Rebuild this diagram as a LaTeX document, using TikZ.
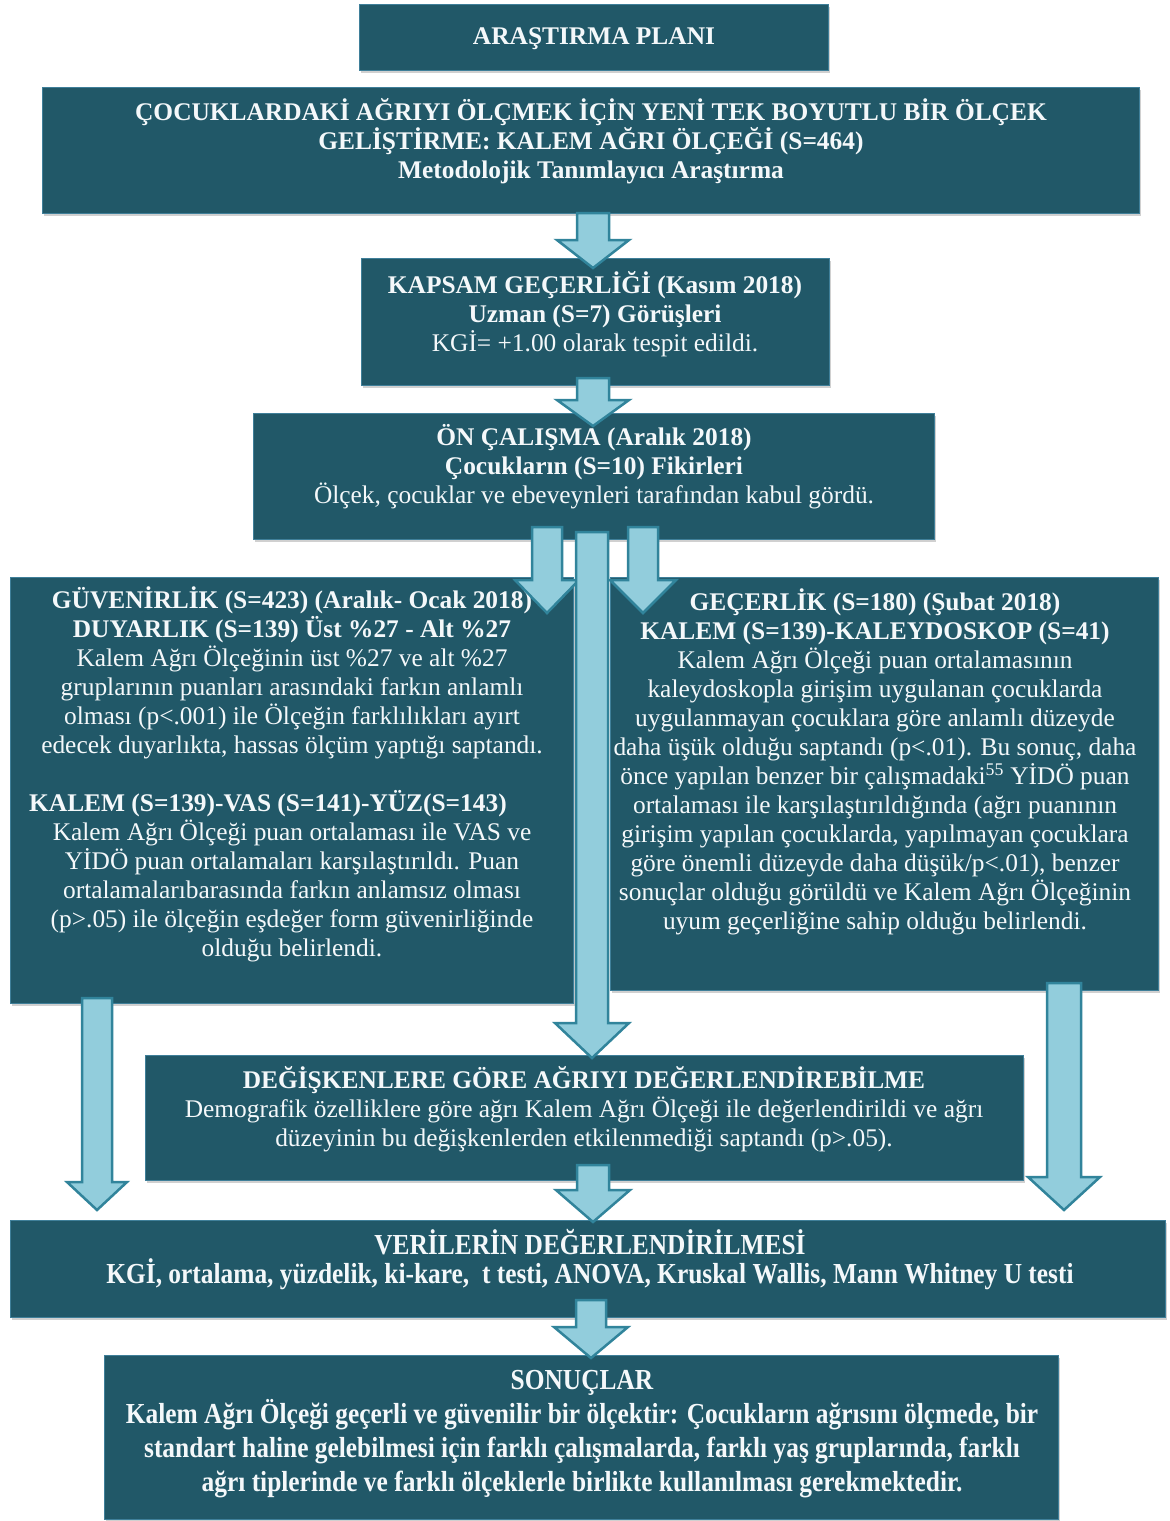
\documentclass[tikz,border=0pt]{standalone}
\usepackage{fontspec}
\setmainfont{Liberation Serif}
\newfontfamily\condfont[FakeStretch=0.876]{Liberation Serif}
\usetikzlibrary{shadows,fit}
\definecolor{boxfill}{HTML}{215868}
\definecolor{boxedge}{HTML}{3F7F99}
\definecolor{arrfill}{HTML}{92CDDC}
\definecolor{arredge}{HTML}{31849B}
\definecolor{txtcol}{HTML}{F4F8FA}
\tikzset{
  box/.style={rectangle, fill=boxfill, draw=boxedge, line width=0.6pt, inner sep=0pt,
    drop shadow={shadow xshift=2pt, shadow yshift=-3pt, opacity=0.3, fill=black!60}},
  txt/.style={text=txtcol, align=center, inner sep=0pt, font=\fontsize{25.4}{29}\selectfont},
  ctxt/.style={text=txtcol, align=center, inner sep=0pt, font=\condfont\bfseries\fontsize{29}{29}\selectfont},
  barrow/.style={fill=arrfill, draw=arredge, line width=2.5pt, line join=miter},
}
% cx, ytop, yhead, ytip, half shaft, half head
\newcommand\blockarr[6]{\draw[barrow] ({#1-#5},#2) -- ({#1+#5},#2) -- ({#1+#5},#3) -- ({#1+#6},#3) -- (#1,#4) -- ({#1-#6},#3) -- ({#1-#5},#3) -- cycle;}
\begin{document}
\begin{tikzpicture}[x=1pt,y=-1pt]
\useasboundingbox[fill=white] (0,0) rectangle (1170,1521);

% boxes
\node[box, fit={(359,4) (828,70)}] (b1) {};
\node[box, fit={(42,87) (1139,213)}] (b2) {};
\node[box, fit={(361,258) (829,385)}] (b3) {};
\node[box, fit={(253,413) (934,539)}] (b4) {};
\node[box, fit={(10,577) (573,1003)}] (bl) {};
\node[box, fit={(610,577) (1158,990)}] (br) {};
\node[box, fit={(145,1055) (1023,1180)}] (b5) {};
\node[box, fit={(10,1220) (1165,1317)}] (b6) {};
\node[box, fit={(104,1355) (1058,1519)}] (b7) {};

% texts
\node[txt] (t1) at (594,39) {\textbf{ARAŞTIRMA PLANI}};
\node[txt] (t2) at (591,141) {\textbf{ÇOCUKLARDAKİ AĞRIYI ÖLÇMEK İÇİN YENİ TEK BOYUTLU BİR ÖLÇEK}\\
  \textbf{GELİŞTİRME: KALEM AĞRI ÖLÇEĞİ (S=464)}\\
  \textbf{Metodolojik Tanımlayıcı Araştırma}};
\node[txt] (t3) at (595,314) {\textbf{KAPSAM GEÇERLİĞİ (Kasım 2018)}\\
  \textbf{Uzman (S=7) Görüşleri}\\
  KGİ= +1.00 olarak tespit edildi.};
\node[txt] (t4) at (594,467) {\textbf{ÖN ÇALIŞMA (Aralık 2018)}\\
  \textbf{Çocukların (S=10) Fikirleri}\\
  Ölçek, çocuklar ve ebeveynleri tarafından kabul gördü.};
\node[txt] (tl) at (292,774.5) {\textbf{GÜVENİRLİK (S=423) (Aralık- Ocak 2018)}\\
  \textbf{DUYARLIK (S=139) Üst \%27 - Alt \%27}\\
  Kalem Ağrı Ölçeğinin üst \%27 ve alt \%27\\
  gruplarının puanları arasındaki farkın anlamlı\\
  olması (p<.001) ile Ölçeğin farklılıkları ayırt\\
  edecek duyarlıkta, hassas ölçüm yaptığı saptandı.\\[29pt]
  \hspace*{-48pt}\textbf{KALEM (S=139)-VAS (S=141)-YÜZ(S=143)}\\
  Kalem Ağrı Ölçeği puan ortalaması ile VAS ve\\
  YİDÖ puan ortalamaları karşılaştırıldı. Puan\\
  ortalamalarıbarasında farkın anlamsız olması\\
  (p>.05) ile ölçeğin eşdeğer form güvenirliğinde\\
  olduğu belirlendi.};
\node[txt] (tr) at (875,761.5) {\textbf{GEÇERLİK (S=180) (Şubat 2018)}\\
  \textbf{KALEM (S=139)-KALEYDOSKOP (S=41)}\\
  Kalem Ağrı Ölçeği puan ortalamasının\\
  kaleydoskopla girişim uygulanan çocuklarda\\
  uygulanmayan çocuklara göre anlamlı düzeyde\\
  daha üşük olduğu saptandı (p<.01). Bu sonuç, daha\\
  önce yapılan benzer bir çalışmadaki\textsuperscript{55} YİDÖ puan\\
  ortalaması ile karşılaştırıldığında (ağrı puanının\\
  girişim yapılan çocuklarda, yapılmayan çocuklara\\
  göre önemli düzeyde daha düşük/p<.01), benzer\\
  sonuçlar olduğu görüldü ve Kalem Ağrı Ölçeğinin\\
  uyum geçerliğine sahip olduğu belirlendi.};
\node[txt] (t5) at (584,1109) {\textbf{DEĞİŞKENLERE GÖRE AĞRIYI DEĞERLENDİREBİLME}\\
  Demografik özelliklere göre ağrı Kalem Ağrı Ölçeği ile değerlendirildi ve ağrı\\
  düzeyinin bu değişkenlerden etkilenmediği saptandı (p>.05).};
\node[ctxt] (t6) at (590,1260) {VERİLERİN DEĞERLENDİRİLMESİ\\
  KGİ, ortalama, yüzdelik, ki-kare,\ \ t testi, ANOVA, Kruskal Wallis, Mann Whitney U testi};
\node[ctxt, font=\condfont\bfseries\fontsize{29}{34}\selectfont] (t7) at (582,1434) {SONUÇLAR\\
  Kalem Ağrı Ölçeği geçerli ve güvenilir bir ölçektir: Çocukların ağrısını ölçmede, bir\\
  standart haline gelebilmesi için farklı çalışmalarda, farklı yaş gruplarında, farklı\\
  ağrı tiplerinde ve farklı ölçeklerle birlikte kullanılması gerekmektedir.};

% block arrows
\blockarr{593}{213}{240}{268}{16}{36}
\blockarr{593}{378}{400}{426}{16}{36}
\blockarr{547}{527}{580}{613}{15}{32}
\blockarr{643}{527}{580}{613}{15}{33}
\blockarr{592}{532}{1023}{1058}{16}{37}
\blockarr{97}{998}{1182}{1210}{15}{30}
\blockarr{1064}{983}{1177}{1210}{17}{36}
\blockarr{593}{1165}{1190}{1222}{16}{37}
\blockarr{591}{1300}{1327}{1358}{15}{37}
\end{tikzpicture}
\end{document}
